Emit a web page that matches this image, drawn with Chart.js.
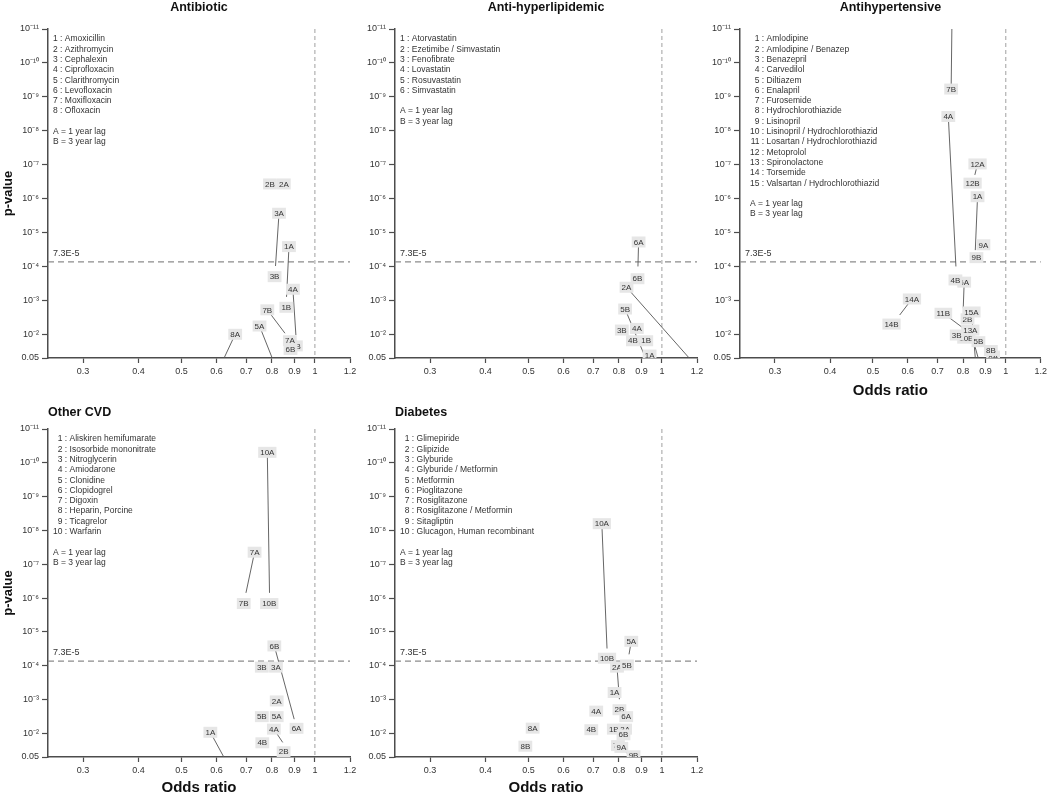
<!DOCTYPE html>
<html lang="en">
<head>
<meta charset="UTF-8" />
<title>Odds ratio vs p-value by drug class</title>
<style>
  html, body { margin: 0; padding: 0; background: #fff; }
  body { width: 1050px; height: 797px; position: relative; overflow: hidden; }
  .panel { position: absolute; }
</style>
</head>
<body>
<div class="panel" style="left:0px;top:0px;width:362px;height:400px"><canvas id="c1"></canvas></div>
<div class="panel" style="left:347px;top:0px;width:362px;height:400px"><canvas id="c2"></canvas></div>
<div class="panel" style="left:692px;top:0px;width:358px;height:400px"><canvas id="c3"></canvas></div>
<div class="panel" style="left:0px;top:400px;width:362px;height:397px"><canvas id="c4"></canvas></div>
<div class="panel" style="left:347px;top:400px;width:362px;height:397px"><canvas id="c5"></canvas></div>

<script src="https://cdn.jsdelivr.net/npm/chart.js@4.4.1/dist/chart.umd.min.js"></script>
<script>
// axes
var xTicks = [0.3, 0.4, 0.5, 0.6, 0.7, 0.8, 0.9, 1, 1.2];
var xTickLabels = ["0.3", "0.4", "0.5", "0.6", "0.7", "0.8", "0.9", "1", "1.2"];
var yTicks = [0.05, 1e-2, 1e-3, 1e-4, 1e-5, 1e-6, 1e-7, 1e-8, 1e-9, 1e-10, 1e-11];
var yTickLabels = ["0.05", "10⁻²", "10⁻³", "10⁻⁴", "10⁻⁵", "10⁻⁶", "10⁻⁷", "10⁻⁸", "10⁻⁹", "10⁻¹⁰", "10⁻¹¹"];
var threshold = 7.3e-5;
var thresholdLabel = "7.3E-5";
var lagNotes = ["A = 1 year lag", "B = 3 year lag"];

// Antibiotic (point = odds ratio / p-value, lab* = where the label sits, null = on the point)
var abxDrugs = ["Amoxicillin", "Azithromycin", "Cephalexin", "Ciprofloxacin", "Clarithromycin", "Levofloxacin", "Moxifloxacin", "Ofloxacin"];
var abxCode = ["8A", "5A", "7B", "4B", "6B", "7A", "4A", "1B", "1A", "3B", "3A", "2A", "2B"];
var abxOr = [0.624, 0.801, 0.856, 0.906, 0.881, 0.878, 0.906, 0.862, 0.863, 0.811, 0.815, 0.851, 0.792];
var abxP = [0.05, 0.05, 9.3e-3, 2.2e-2, 2.8e-2, 1.55e-2, 1.05e-2, 1.6e-3, 7.9e-4, 2.0e-4, 9.7e-5, 3.7e-7, 3.7e-7];
var abxLabOr = [0.661, 0.750, 0.781, null, null, null, 0.892, null, 0.874, null, 0.830, null, null];
var abxLabP = [1.0e-2, 5.7e-3, 1.9e-3, null, null, null, 4.7e-4, null, 2.6e-5, null, 2.7e-6, null, null];

// Anti-hyperlipidemic
var lipDrugs = ["Atorvastatin", "Ezetimibe / Simvastatin", "Fenofibrate", "Lovastatin", "Rosuvastatin", "Simvastatin"];
var lipCode = ["1A", "1B", "4B", "3B", "4A", "5B", "6B", "2A", "6A"];
var lipOr = [0.938, 0.922, 0.860, 0.812, 0.878, 0.909, 0.881, 1.152, 0.883];
var lipP = [0.041, 1.55e-2, 1.55e-2, 7.5e-3, 6.7e-3, 3.6e-2, 2.3e-4, 0.05, 1.0e-4];
var lipLabOr = [null, null, null, null, null, 0.826, null, 0.832, 0.886];
var lipLabP = [null, null, null, null, null, 1.8e-3, null, 4.1e-4, 1.9e-5];

// Antihypertensive
var htnDrugs = ["Amlodipine", "Amlodipine / Benazep", "Benazepril", "Carvedilol", "Diltiazem", "Enalapril", "Furosemide",
  "Hydrochlorothiazide", "Lisinopril", "Lisinopril / Hydrochlorothiazid", "Losartan / Hydrochlorothiazid", "Metoprolol",
  "Spironolactone", "Torsemide", "Valsartan / Hydrochlorothiazid"];
var htnCode = ["8A", "8B", "10B", "5B", "3B", "13A", "2B", "15A", "11B", "14B", "14A", "6A", "4B", "9B", "9A", "1A", "12B", "12A", "4A", "7B"];
var htnOr = [0.936, 0.925, 0.814, 0.867, 0.774, 0.866, 0.819, 0.853, 0.812, 0.551, 0.575, 0.801, 0.769, 0.858, 0.890, 0.853, 0.841, 0.851, 0.771, 0.755];
var htnP = [0.044, 3.0e-2, 1.3e-2, 1.65e-2, 1.05e-2, 0.05, 3.5e-3, 0.05, 7.5e-3, 5.0e-3, 2.7e-3, 1.7e-3, 2.5e-4, 5.5e-5, 2.3e-5, 3.3e-5, 3.5e-7, 2.0e-7, 1.0e-4, 8e-12];
var htnLabOr = [null, null, null, null, null, 0.831, null, 0.836, 0.722, null, 0.613, 0.805, null, null, null, 0.863, null, 0.863, 0.741, 0.752];
var htnLabP = [null, null, null, null, null, 7.5e-3, null, 2.2e-3, 2.4e-3, null, 9.1e-4, 2.9e-4, null, null, null, 8.8e-7, null, 9.5e-8, 3.8e-9, 5.9e-10];

// Other CVD
var cvdDrugs = ["Aliskiren hemifumarate", "Isosorbide mononitrate", "Nitroglycerin", "Amiodarone", "Clonidine", "Clopidogrel",
  "Digoxin", "Heparin, Porcine", "Ticagrelor", "Warfarin"];
var cvdCode = ["1A", "2B", "4B", "4A", "6A", "5B", "5A", "2A", "3B", "3A", "6B", "7B", "10B", "7A", "10A"];
var cvdOr = [0.623, 0.850, 0.761, 0.846, 0.909, 0.759, 0.820, 0.820, 0.759, 0.817, 0.898, 0.691, 0.789, 0.699, 0.790];
var cvdP = [0.05, 3.5e-2, 1.9e-2, 1.85e-2, 7.1e-3, 3.2e-3, 3.2e-3, 1.1e-3, 1.1e-4, 1.1e-4, 3.8e-3, 1.45e-6, 1.45e-6, 7.0e-7, 7.0e-7];
var cvdLabOr = [0.581, null, null, 0.808, null, null, null, null, null, null, 0.810, null, null, 0.731, 0.781];
var cvdLabP = [9.3e-3, null, null, 7.5e-3, null, null, null, null, null, null, 2.6e-5, null, null, 4.4e-8, 4.9e-11];

// Diabetes
var dmDrugs = ["Glimepiride", "Glipizide", "Glyburide", "Glyburide / Metformin", "Metformin", "Pioglitazone", "Rosiglitazone",
  "Rosiglitazone / Metformin", "Sitagliptin", "Glucagon, Human recombinant"];
var dmCode = ["9B", "7A", "9A", "8B", "8A", "4B", "1B", "3A", "6B", "4A", "2B", "6A", "1A", "2A", "5B", "10B", "5A", "10A"];
var dmOr = [0.863, 0.796, 0.851, 0.492, 0.511, 0.693, 0.779, 0.826, 0.819, 0.711, 0.802, 0.831, 0.782, 0.802, 0.834, 0.752, 0.843, 0.752];
var dmP = [0.046, 2.3e-2, 0.05, 2.4e-2, 7.0e-3, 7.8e-3, 7.5e-3, 7.5e-3, 1.1e-2, 2.2e-3, 2.0e-3, 3.2e-3, 6.2e-4, 9.8e-4, 9.5e-5, 6.0e-5, 4.6e-5, 3.1e-5];
var dmLabOr = [null, null, 0.810, null, null, null, null, null, null, null, null, null, null, 0.792, null, null, 0.853, 0.732];
var dmLabP = [null, null, 2.6e-2, null, null, null, null, null, null, null, null, null, null, 1.1e-4, null, null, 1.9e-5, 6.3e-9];

var FONT = "'Liberation Sans', Arial, Helvetica, sans-serif";
Chart.defaults.font.family = FONT;
Chart.defaults.color = "#333";

var panels = [
  { id: "c1", title: "Antibiotic", titleAlign: "center", titleY: 8, plotBottom: 358, legendDx: 5,
    drugs: abxDrugs, code: abxCode, or: abxOr, p: abxP, labOr: abxLabOr, labP: abxLabP, yTitle: true, xTitle: false },
  { id: "c2", title: "Anti-hyperlipidemic", titleAlign: "center", titleY: 8, plotBottom: 358, legendDx: 5,
    drugs: lipDrugs, code: lipCode, or: lipOr, p: lipP, labOr: lipLabOr, labP: lipLabP, yTitle: false, xTitle: false },
  { id: "c3", title: "Antihypertensive", titleAlign: "center", titleY: 8, plotBottom: 358, legendDx: 10,
    drugs: htnDrugs, code: htnCode, or: htnOr, p: htnP, labOr: htnLabOr, labP: htnLabP, yTitle: false, xTitle: true },
  { id: "c4", title: "Other CVD", titleAlign: "left", titleY: 13, plotBottom: 357, legendDx: 5,
    drugs: cvdDrugs, code: cvdCode, or: cvdOr, p: cvdP, labOr: cvdLabOr, labP: cvdLabP, yTitle: true, xTitle: true },
  { id: "c5", title: "Diabetes", titleAlign: "left", titleY: 13, plotBottom: 357, legendDx: 5,
    drugs: dmDrugs, code: dmCode, or: dmOr, p: dmP, labOr: dmLabOr, labP: dmLabP, yTitle: false, xTitle: true }
];

function decorPlugin(cfg) {
  return {
    id: "decor_" + cfg.id,
    beforeDatasetsDraw: function (chart) {
      var ctx = chart.ctx, a = chart.chartArea;
      var vx = chart.scales.x.getPixelForValue(1);
      var hy = chart.scales.y.getPixelForValue(threshold);
      ctx.save();
      ctx.strokeStyle = "#a0a0a0";
      ctx.lineWidth = 1;
      ctx.setLineDash([4, 3]);
      ctx.beginPath(); ctx.moveTo(vx, a.top); ctx.lineTo(vx, a.bottom); ctx.stroke();
      ctx.strokeStyle = "#8c8c8c";
      ctx.lineWidth = 1.2;
      ctx.setLineDash([6, 4]);
      ctx.beginPath(); ctx.moveTo(a.left, hy); ctx.lineTo(a.right, hy); ctx.stroke();
      ctx.setLineDash([]);
      ctx.fillStyle = "#333";
      ctx.font = "9px " + FONT;
      ctx.textAlign = "left";
      ctx.textBaseline = "alphabetic";
      ctx.fillText(thresholdLabel, a.left + 5, hy - 6);
      ctx.restore();
    },
    afterDatasetsDraw: function (chart) {
      var ctx = chart.ctx, a = chart.chartArea;
      var pts = chart.getDatasetMeta(0).data;
      var labs = chart.getDatasetMeta(1).data;
      ctx.save();
      ctx.beginPath();
      ctx.rect(a.left, a.top, a.right - a.left, a.bottom - a.top);
      ctx.clip();
      // leader lines first, boxes on top
      ctx.strokeStyle = "#555";
      ctx.lineWidth = 0.9;
      cfg.code.forEach(function (c, i) {
        if (cfg.labOr[i] == null) return;
        ctx.beginPath();
        ctx.moveTo(labs[i].x, labs[i].y);
        ctx.lineTo(pts[i].x, pts[i].y);
        ctx.stroke();
      });
      ctx.font = "8px " + FONT;
      ctx.textAlign = "center";
      ctx.textBaseline = "middle";
      cfg.code.forEach(function (c, i) {
        var w = ctx.measureText(c).width + 4, h = 11;
        ctx.fillStyle = "#e6e6e6";
        ctx.fillRect(labs[i].x - w / 2, labs[i].y - h / 2, w, h);
        ctx.fillStyle = "#333";
        ctx.fillText(c, labs[i].x, labs[i].y + 0.5);
      });
      ctx.restore();
    },
    afterDraw: function (chart) {
      var ctx = chart.ctx, a = chart.chartArea;
      ctx.save();
      ctx.fillStyle = "#111";
      ctx.font = "bold 12.5px " + FONT;
      ctx.textBaseline = "middle";
      if (cfg.titleAlign === "center") {
        ctx.textAlign = "center";
        ctx.fillText(cfg.title, (a.left + a.right) / 2, cfg.titleY);
      } else {
        ctx.textAlign = "left";
        ctx.fillText(cfg.title, a.left, cfg.titleY);
      }
      // drug key
      ctx.font = "8.5px " + FONT;
      ctx.fillStyle = "#333";
      var x0 = a.left + cfg.legendDx, y = a.top + 10, step = 10.3;
      var numW = ctx.measureText(String(cfg.drugs.length)).width;
      cfg.drugs.forEach(function (d, i) {
        ctx.textAlign = "right";
        ctx.fillText(String(i + 1), x0 + numW, y);
        ctx.textAlign = "left";
        ctx.fillText(" : " + d, x0 + numW, y);
        y += step;
      });
      y += step;
      lagNotes.forEach(function (t) {
        ctx.fillText(t, x0, y);
        y += step;
      });
      ctx.restore();
    }
  };
}

function buildChart(cfg) {
  var el = document.getElementById(cfg.id);
  var W = el.parentNode.clientWidth, H = el.parentNode.clientHeight;
  var pts = cfg.or.map(function (v, i) { return { x: v, y: cfg.p[i] }; });
  var labs = cfg.or.map(function (v, i) {
    return {
      x: cfg.labOr[i] == null ? v : cfg.labOr[i],
      y: cfg.labP[i] == null ? cfg.p[i] : cfg.labP[i]
    };
  });
  var axisColor = "#4d4d4d";

  new Chart(el, {
    type: "scatter",
    data: {
      datasets: [
        { data: pts, pointRadius: 0, pointHoverRadius: 0 },
        { data: labs, pointRadius: 0, pointHoverRadius: 0 }
      ]
    },
    options: {
      responsive: true,
      maintainAspectRatio: false,
      animation: false,
      events: [],
      layout: { padding: { top: 29, left: 0, bottom: 0, right: W - 48 - 302 } },
      plugins: { legend: { display: false }, tooltip: { enabled: false } },
      scales: {
        x: {
          type: "logarithmic",
          position: "bottom",
          min: 0.25,
          max: 1.2,
          bounds: "data",
          afterBuildTicks: function (s) {
            s.ticks = xTicks.map(function (v) { return { value: v }; });
          },
          afterFit: function (s) { s.height = H - cfg.plotBottom; },
          ticks: {
            autoSkip: false, maxRotation: 0, padding: 3,
            font: { size: 9 }, color: "#333",
            callback: function (v, i) { return xTickLabels[i]; }
          },
          grid: { display: true, drawOnChartArea: false, drawTicks: true, tickLength: 5, tickColor: axisColor, tickWidth: 1.2 },
          border: { display: true, color: axisColor, width: 1.5 },
          title: { display: cfg.xTitle, text: "Odds ratio", color: "#111", font: { size: 15, weight: "bold" }, padding: 0 }
        },
        y: {
          type: "logarithmic",
          position: "left",
          min: 1e-11,
          max: 0.05,
          reverse: true,
          bounds: "data",
          afterBuildTicks: function (s) {
            s.ticks = yTicks.map(function (v) { return { value: v }; });
          },
          afterFit: function (s) { s.width = 48; },
          ticks: {
            autoSkip: false, padding: 3,
            font: { size: 9 }, color: "#333",
            callback: function (v, i) { return yTickLabels[i]; }
          },
          grid: { display: true, drawOnChartArea: false, drawTicks: true, tickLength: 6, tickColor: axisColor, tickWidth: 1.2 },
          border: { display: true, color: axisColor, width: 1.5 },
          title: { display: cfg.yTitle, text: "p-value", color: "#111", font: { size: 13, weight: "bold" }, padding: { top: 1, bottom: 0 } }
        }
      }
    },
    plugins: [decorPlugin(cfg)]
  });
}

panels.forEach(buildChart);
</script>
</body>
</html>
